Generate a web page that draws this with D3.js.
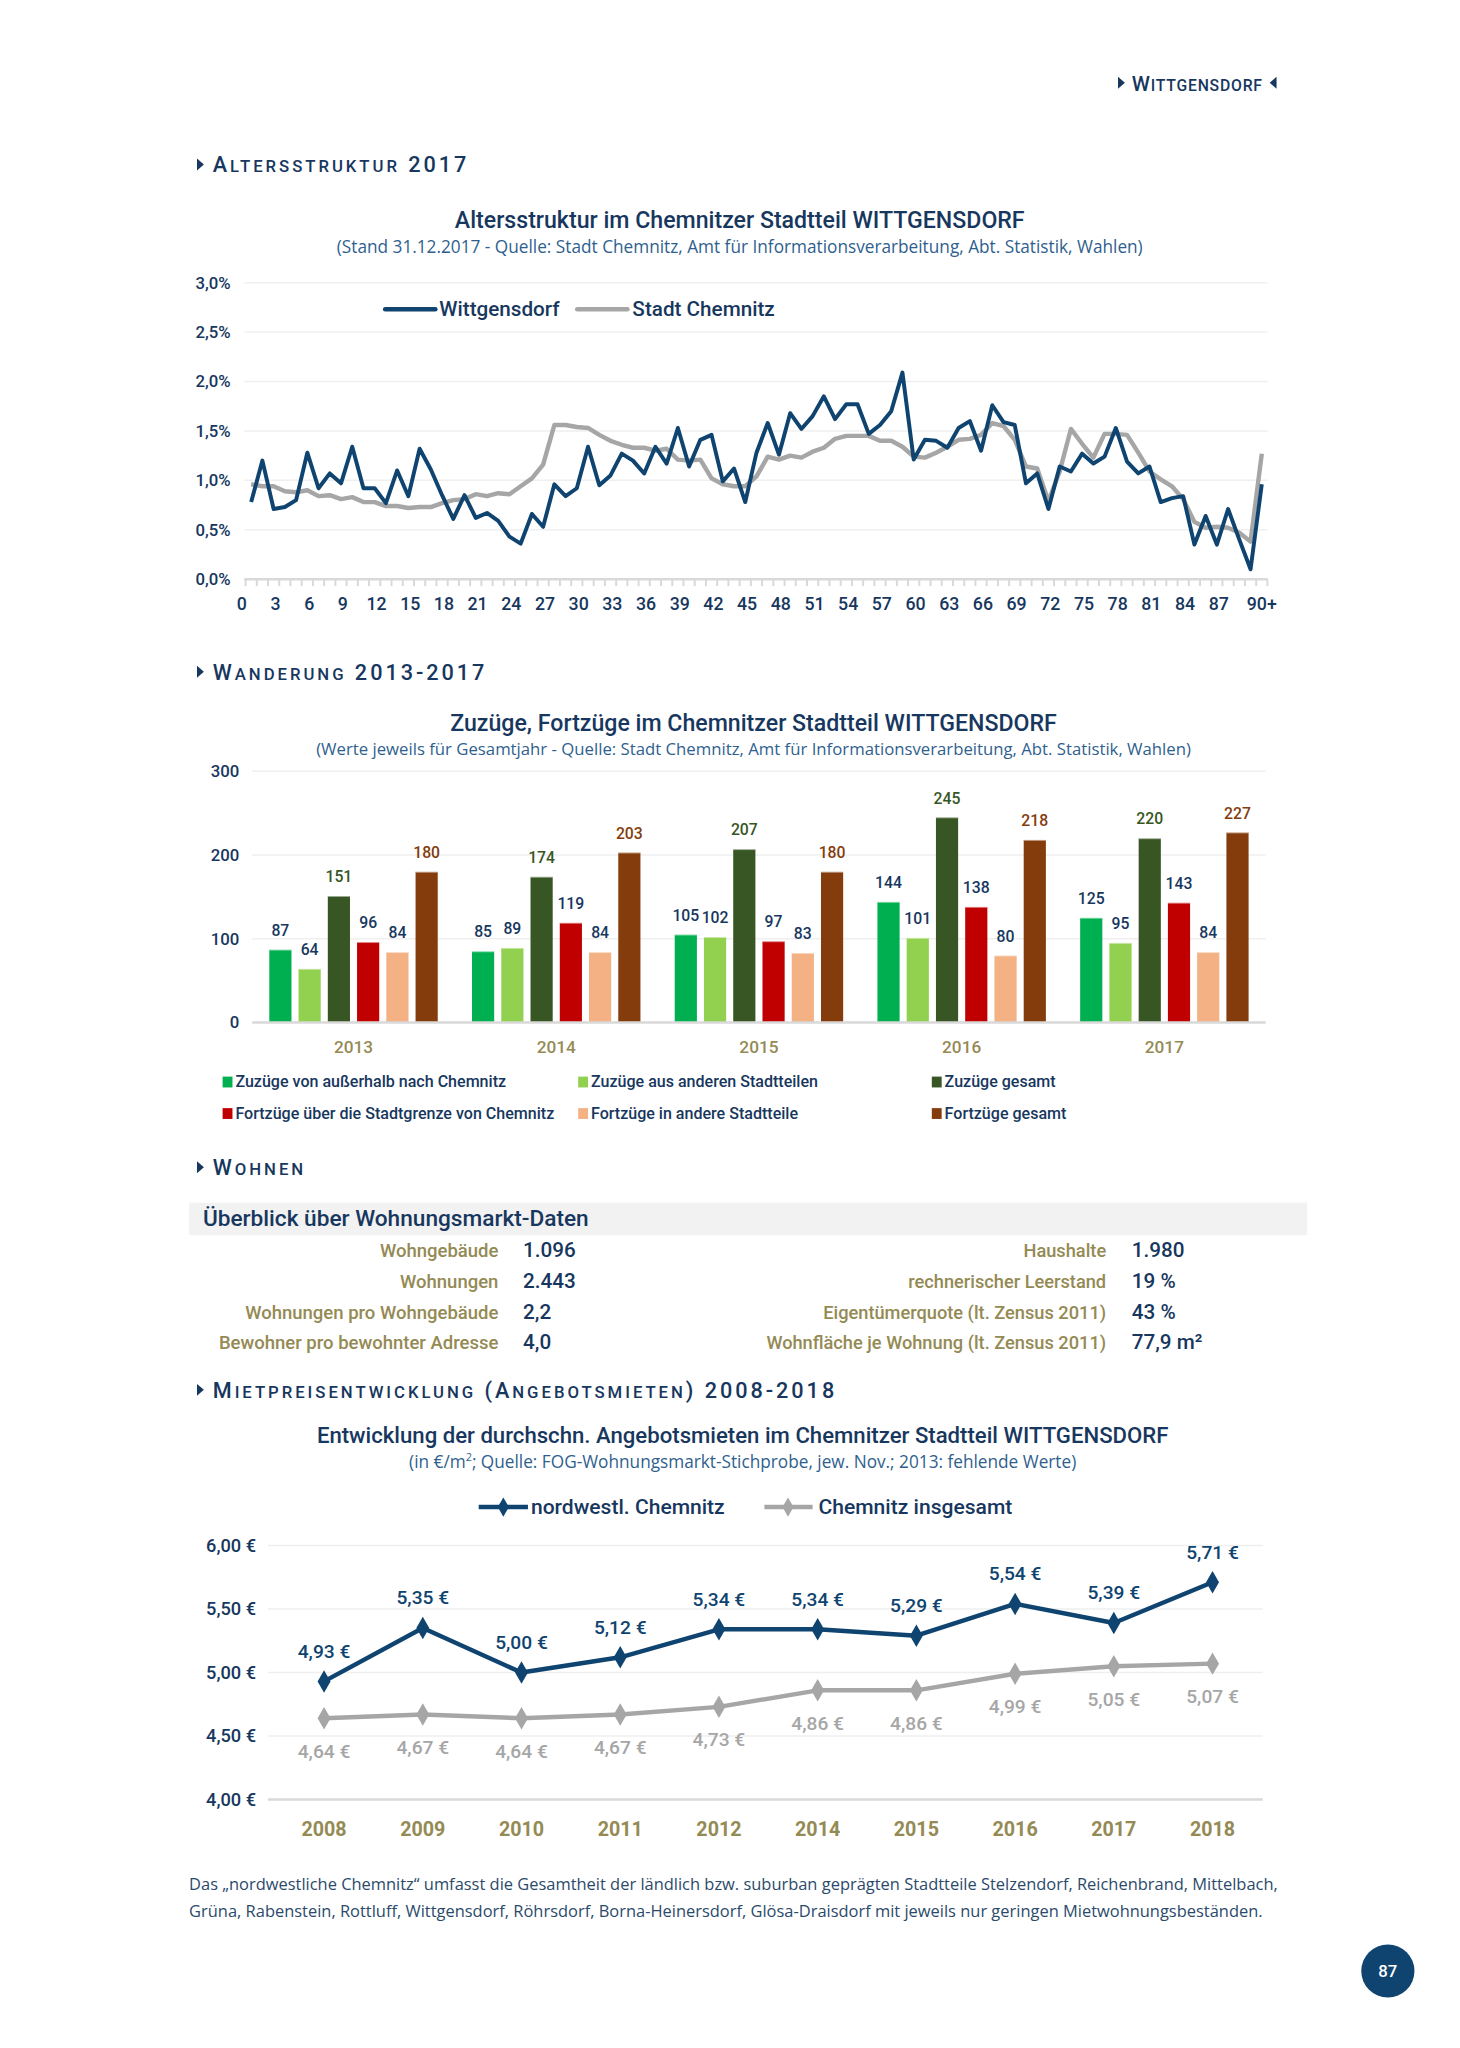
<!DOCTYPE html>
<html><head><meta charset="utf-8">
<script src="https://cdn.jsdelivr.net/npm/d3@7"></script>
<style>body{margin:0;background:#fff} svg{display:block}</style>
</head><body>
<svg id="c" width="1460" height="2048"></svg>
<script>
// ---------- DATA ----------
const ages = d3.range(0, 91);
const ageTickLabels = ["0","3","6","9","12","15","18","21","24","27","30","33","36","39","42","45","48","51","54","57","60","63","66","69","72","75","78","81","84","87","90+"];
const ageYTicks = [0, 0.5, 1.0, 1.5, 2.0, 2.5, 3.0];
const wittgensdorf = [0.78,1.20,0.71,0.73,0.80,1.28,0.92,1.07,0.97,1.34,0.92,0.92,0.77,1.10,0.84,1.32,1.11,0.85,0.61,0.85,0.62,0.67,0.59,0.43,0.36,0.66,0.53,0.96,0.84,0.92,1.34,0.95,1.05,1.27,1.20,1.07,1.34,1.17,1.53,1.14,1.41,1.46,0.99,1.12,0.78,1.28,1.58,1.26,1.68,1.52,1.65,1.85,1.62,1.77,1.77,1.47,1.56,1.70,2.09,1.21,1.41,1.40,1.33,1.53,1.60,1.30,1.76,1.59,1.56,0.97,1.07,0.71,1.14,1.09,1.27,1.17,1.24,1.53,1.19,1.07,1.14,0.78,0.82,0.84,0.35,0.64,0.35,0.71,0.40,0.10,0.96];
const stadtChemnitz = [0.96,0.94,0.94,0.89,0.88,0.90,0.84,0.85,0.81,0.83,0.78,0.78,0.74,0.74,0.72,0.73,0.73,0.77,0.80,0.81,0.86,0.84,0.87,0.86,0.94,1.02,1.16,1.56,1.56,1.54,1.53,1.46,1.40,1.36,1.33,1.33,1.30,1.32,1.21,1.20,1.21,1.02,0.96,0.94,0.94,1.04,1.24,1.21,1.25,1.23,1.29,1.33,1.42,1.45,1.45,1.45,1.40,1.40,1.34,1.24,1.23,1.28,1.34,1.41,1.42,1.46,1.58,1.55,1.41,1.14,1.12,0.79,1.09,1.52,1.37,1.23,1.47,1.47,1.46,1.28,1.09,1.01,0.94,0.81,0.58,0.52,0.53,0.52,0.47,0.38,1.27];

const migYears = ["2013","2014","2015","2016","2017"];
const migYTicks = [0, 100, 200, 300];
const zuzuegeAusserhalb = [87, 85, 105, 144, 125];
const zuzuegeStadtteile = [64, 89, 102, 101, 95];
const zuzuegeGesamt = [151, 174, 207, 245, 220];
const fortzuegeGrenze = [96, 119, 97, 138, 143];
const fortzuegeStadtteile = [84, 84, 83, 80, 84];
const fortzuegeGesamt = [180, 203, 180, 218, 227];
const migSeriesNames = ["Zuzüge von außerhalb nach Chemnitz","Zuzüge aus anderen Stadtteilen","Zuzüge gesamt","Fortzüge über die Stadtgrenze von Chemnitz","Fortzüge in andere Stadtteile","Fortzüge gesamt"];

const tableLeftLabels = ["Wohngebäude","Wohnungen","Wohnungen pro Wohngebäude","Bewohner pro bewohnter Adresse"];
const tableLeftValues = ["1.096","2.443","2,2","4,0"];
const tableRightLabels = ["Haushalte","rechnerischer Leerstand","Eigentümerquote (lt. Zensus 2011)","Wohnfläche je Wohnung (lt. Zensus 2011)"];
const tableRightValues = ["1.980","19 %","43 %","77,9 m²"];

const rentYears = ["2008","2009","2010","2011","2012","2014","2015","2016","2017","2018"];
const rentYTicks = [4.0, 4.5, 5.0, 5.5, 6.0];
const rentNordwest = [4.93, 5.35, 5.00, 5.12, 5.34, 5.34, 5.29, 5.54, 5.39, 5.71];
const rentChemnitz = [4.64, 4.67, 4.64, 4.67, 4.73, 4.86, 4.86, 4.99, 5.05, 5.07];

// ---------- STYLE ----------
const NAVY = "#17375e", LINE = "#0f4470", OLIVE = "#948a54", GREY = "#a6a6a6", SUB = "#2f5f8e", GRID = "#efefef", AXIS = "#d9d9d9";
const DIN = "Roboto, 'DejaVu Sans', sans-serif";
const OS = "'Open Sans', 'Noto Sans', sans-serif";
const svg = d3.select("#c").append("g").attr("transform", "scale(0.985)");

function tri(x, y, dir) {
  const d = dir > 0 ? `M${x},${y-6}L${x+7},${y}L${x},${y+6}Z` : `M${x+7},${y-6}L${x},${y}L${x+7},${y+6}Z`;
  svg.append("path").attr("d", d).attr("fill", NAVY);
}
function caps(x, y, parts, big, small, ls) {
  const t = svg.append("text").attr("x", x).attr("y", y).attr("fill", NAVY)
    .attr("font-family", DIN).attr("font-weight", 500).attr("letter-spacing", ls);
  parts.forEach(([s, b]) => t.append("tspan").attr("font-size", b ? big : small).text(s));
  return t;
}
function txt(x, y, s, o) {
  const t = svg.append("text").attr("x", x).attr("y", y).text(s)
    .attr("font-family", o.ff || DIN).attr("font-size", o.fs || 16).attr("font-weight", o.fw || 500)
    .attr("fill", o.fill || NAVY).attr("text-anchor", o.anchor || "start");
  if (o.ls) t.attr("letter-spacing", o.ls);
  return t;
}

// ---------- HEADER ----------
tri(1135, 84, 1);
caps(1149, 92, [["W", true], ["ITTGENSDORF", false]], 21, 16, 0.8);
tri(1289, 84, -1);

// ---------- SECTION 1: line chart ----------
tri(200, 167, 1);
caps(216, 175, [["A", true], ["LTERSSTRUKTUR", false], [" 2017", true]], 22, 17, 3);
txt(751, 231, "Altersstruktur im Chemnitzer Stadtteil WITTGENSDORF", {fs: 23.5, anchor: "middle"});
txt(751, 257, "(Stand 31.12.2017 - Quelle: Stadt Chemnitz, Amt für Informationsverarbeitung, Abt. Statistik, Wahlen)", {ff: OS, fs: 17.5, fw: 400, fill: SUB, anchor: "middle"});

{
  const x = d3.scaleLinear().domain([0, 90]).range([255, 1281]);
  const y = d3.scaleLinear().domain([0, 3]).range([588, 287]);
  const g = svg.append("g");
  g.selectAll("line.grid").data(ageYTicks.filter(d => d > 0)).join("line")
    .attr("x1", 248).attr("x2", 1287).attr("y1", d => y(d)).attr("y2", d => y(d))
    .attr("stroke", GRID).attr("stroke-width", 1.5);
  g.append("line").attr("x1", 248).attr("x2", 1287).attr("y1", y(0)).attr("y2", y(0)).attr("stroke", AXIS).attr("stroke-width", 2.5);
  g.selectAll("line.tick").data(d3.range(0, 92)).join("line")
    .attr("x1", d => x(d - 0.5)).attr("x2", d => x(d - 0.5)).attr("y1", y(0)).attr("y2", y(0) + 7)
    .attr("stroke", AXIS).attr("stroke-width", 2);
  g.selectAll("text.yl").data(ageYTicks).join("text")
    .attr("x", 234).attr("y", d => y(d)).attr("dy", "0.35em").attr("text-anchor", "end")
    .attr("font-family", DIN).attr("font-size", 17).attr("font-weight", 500).attr("fill", NAVY)
    .text(d => d3.format(".1f")(d).replace(".", ",") + "%");
  g.selectAll("text.xl").data(ageTickLabels).join("text")
    .attr("x", (d, i) => i === ageTickLabels.length - 1 ? x(i * 3) : x(i * 3) - 9.5)
    .attr("y", 619).attr("text-anchor", "middle")
    .attr("font-family", DIN).attr("font-size", 18).attr("font-weight", 500).attr("fill", NAVY)
    .text(d => d);
  const line = d3.line().x((d, i) => x(ages[i])).y(d => y(d));
  g.append("path").datum(stadtChemnitz).attr("d", line).attr("fill", "none").attr("stroke", GREY).attr("stroke-width", 4.5).attr("stroke-linejoin", "round");
  g.append("path").datum(wittgensdorf).attr("d", line).attr("fill", "none").attr("stroke", LINE).attr("stroke-width", 4).attr("stroke-linejoin", "round");
  // legend
  g.append("line").attr("x1", 391).attr("x2", 442).attr("y1", 314).attr("y2", 314).attr("stroke", LINE).attr("stroke-width", 4.5).attr("stroke-linecap", "round");
  txt(446, 321, "Wittgensdorf", {fs: 21});
  g.append("line").attr("x1", 586).attr("x2", 637).attr("y1", 314).attr("y2", 314).attr("stroke", GREY).attr("stroke-width", 4.5).attr("stroke-linecap", "round");
  txt(642, 321, "Stadt Chemnitz", {fs: 21});
}

// ---------- SECTION 2: bar chart ----------
tri(200, 682, 1);
caps(216, 690, [["W", true], ["ANDERUNG", false], [" 2013-2017", true]], 22, 17, 3);
txt(765, 742, "Zuzüge, Fortzüge im Chemnitzer Stadtteil WITTGENSDORF", {fs: 23.5, anchor: "middle"});
txt(765, 766, "(Werte jeweils für Gesamtjahr - Quelle: Stadt Chemnitz, Amt für Informationsverarbeitung, Abt. Statistik, Wahlen)", {ff: OS, fs: 17, fw: 400, fill: SUB, anchor: "middle"});

{
  const series = [zuzuegeAusserhalb, zuzuegeStadtteile, zuzuegeGesamt, fortzuegeGrenze, fortzuegeStadtteile, fortzuegeGesamt];
  const colors = ["#00b050", "#92d050", "#375623", "#c00000", "#f4b183", "#843c0c"];
  const labelColors = [NAVY, NAVY, "#375623", NAVY, NAVY, "#843c0c"];
  const x0 = d3.scaleBand().domain(migYears).range([256, 1285]);
  const x1 = d3.scaleBand().domain(d3.range(6)).range([-85.5, 85.5]).paddingInner(0.242);
  const y = d3.scaleLinear().domain([0, 300]).range([1038, 783]);
  const g = svg.append("g");
  g.selectAll("line.grid").data(migYTicks.filter(d => d > 0)).join("line")
    .attr("x1", 256).attr("x2", 1285).attr("y1", d => y(d)).attr("y2", d => y(d))
    .attr("stroke", GRID).attr("stroke-width", 1.5);
  g.selectAll("text.yl").data(migYTicks).join("text")
    .attr("x", 243).attr("y", d => y(d)).attr("dy", "0.35em").attr("text-anchor", "end")
    .attr("font-family", DIN).attr("font-size", 17).attr("font-weight", 500).attr("fill", NAVY).text(d => d);
  const cells = [];
  series.forEach((s, si) => s.forEach((v, yi) => cells.push({si, yi, v})));
  const cx = d => x0(migYears[d.yi]) + x0.bandwidth() / 2 + x1(d.si);
  g.selectAll("rect.bar").data(cells).join("rect")
    .attr("x", cx).attr("width", x1.bandwidth())
    .attr("y", d => y(d.v)).attr("height", d => y(0) - y(d.v))
    .attr("fill", d => colors[d.si]);
  g.selectAll("rect.hl").data(cells).join("rect")
    .attr("x", cx).attr("width", x1.bandwidth())
    .attr("y", d => y(d.v) - 1).attr("height", 2)
    .attr("fill", "#fff").attr("opacity", 0.5);
  g.selectAll("text.vl").data(cells).join("text")
    .attr("x", d => cx(d) + x1.bandwidth() / 2).attr("y", d => y(d.v) - 14)
    .attr("text-anchor", "middle").attr("font-family", DIN).attr("font-size", 16).attr("font-weight", 500)
    .attr("fill", d => labelColors[d.si]).text(d => d.v);
  g.append("line").attr("x1", 256).attr("x2", 1285).attr("y1", y(0)).attr("y2", y(0)).attr("stroke", AXIS).attr("stroke-width", 2.5);
  g.selectAll("text.xl").data(migYears).join("text")
    .attr("x", d => x0(d) + x0.bandwidth() / 2).attr("y", 1069).attr("text-anchor", "middle")
    .attr("font-family", DIN).attr("font-size", 17.5).attr("font-weight", 500).attr("fill", OLIVE).text(d => d);
  // legend
  const lx = [226, 587, 946], ly = [1099, 1131];
  migSeriesNames.forEach((n, i) => {
    const c = i % 3, r = Math.floor(i / 3);
    g.append("rect").attr("x", lx[c]).attr("y", ly[r] - 6).attr("width", 10).attr("height", 11).attr("fill", colors[i]);
    txt(lx[c] + 13, ly[r] + 5, n, {fs: 16.3});
  });
}

// ---------- SECTION 3: table ----------
tri(200, 1185, 1);
caps(216, 1193, [["W", true], ["OHNEN", false]], 22, 17, 3);
svg.append("rect").attr("x", 192).attr("y", 1221).attr("width", 1135).attr("height", 33).attr("fill", "#f2f2f2");
txt(206, 1245, "Überblick über Wohnungsmarkt-Daten", {fs: 23});
{
  const rowY = d3.scalePoint().domain(d3.range(4)).range([1270, 1364]);
  tableLeftLabels.forEach((l, i) => {
    txt(506, rowY(i) + 6, l, {fs: 18.8, fill: OLIVE, anchor: "end"});
    txt(531, rowY(i) + 6, tableLeftValues[i], {fs: 21});
    txt(1123, rowY(i) + 6, tableRightLabels[i], {fs: 18.5, fill: OLIVE, anchor: "end"});
    txt(1149, rowY(i) + 6, tableRightValues[i], {fs: 21});
  });
}

// ---------- SECTION 4: rent chart ----------
tri(200, 1411, 1);
caps(216, 1419, [["M", true], ["IETPREISENTWICKLUNG", false], [" (A", true], ["NGEBOTSMIETEN", false], [") 2008-2018", true]], 22, 17, 3);
txt(754, 1465, "Entwicklung der durchschn. Angebotsmieten im Chemnitzer Stadtteil WITTGENSDORF", {fs: 22.5, anchor: "middle"});
{
  const t = svg.append("text").attr("x", 754).attr("y", 1490).attr("text-anchor", "middle")
    .attr("font-family", OS).attr("font-size", 17.5).attr("fill", SUB);
  t.append("tspan").text("(in €/m");
  t.append("tspan").attr("dy", -7).attr("font-size", 11).text("2");
  t.append("tspan").attr("dy", 7).text("; Quelle: FOG-Wohnungsmarkt-Stichprobe, jew. Nov.; 2013: fehlende Werte)");
}
{
  const x = d3.scalePoint().domain(rentYears).range([329, 1231]);
  const y = d3.scaleLinear().domain([4, 6]).range([1827, 1569]);
  const g = svg.append("g");
  const eur = d => d3.format(".2f")(d).replace(".", ",") + " €";
  g.selectAll("line.grid").data(rentYTicks.filter(d => d > 4)).join("line")
    .attr("x1", 272).attr("x2", 1282).attr("y1", d => y(d)).attr("y2", d => y(d))
    .attr("stroke", GRID).attr("stroke-width", 1.5);
  g.append("line").attr("x1", 272).attr("x2", 1282).attr("y1", y(4)).attr("y2", y(4)).attr("stroke", AXIS).attr("stroke-width", 2.5);
  g.selectAll("text.yl").data(rentYTicks).join("text")
    .attr("x", 260).attr("y", d => y(d)).attr("dy", "0.35em").attr("text-anchor", "end")
    .attr("font-family", DIN).attr("font-size", 18.5).attr("font-weight", 500).attr("fill", NAVY).text(eur);
  g.selectAll("text.xl").data(rentYears).join("text")
    .attr("x", d => x(d)).attr("y", 1864).attr("text-anchor", "middle")
    .attr("font-family", DIN).attr("font-size", 20).attr("font-weight", 700).attr("fill", OLIVE).text(d => d);
  const line = d3.line().x((d, i) => x(rentYears[i])).y(d => y(d));
  const diamond = d3.symbol().type(d3.symbolDiamond).size(150);
  [[rentChemnitz, GREY, 40], [rentNordwest, LINE, -24]].forEach(([data, col, off]) => {
    g.append("path").datum(data).attr("d", line).attr("fill", "none").attr("stroke", col).attr("stroke-width", 4.5).attr("stroke-linejoin", "round");
    g.selectAll(null).data(data).join("path").attr("d", diamond)
      .attr("transform", (d, i) => `translate(${x(rentYears[i])},${y(d)})`).attr("fill", col);
    g.selectAll(null).data(data).join("text")
      .attr("x", (d, i) => x(rentYears[i])).attr("y", d => y(d) + off).attr("text-anchor", "middle")
      .attr("font-family", DIN).attr("font-size", 19.5).attr("font-weight", 500).attr("fill", col).text(eur);
  });
  // legend
  g.append("line").attr("x1", 486).attr("x2", 536).attr("y1", 1530).attr("y2", 1530).attr("stroke", LINE).attr("stroke-width", 4.5);
  g.append("path").attr("d", d3.symbol().type(d3.symbolDiamond).size(110)).attr("transform", "translate(511,1530)").attr("fill", LINE);
  txt(539, 1537, "nordwestl. Chemnitz", {fs: 21.4});
  g.append("line").attr("x1", 776).attr("x2", 825).attr("y1", 1530).attr("y2", 1530).attr("stroke", GREY).attr("stroke-width", 4.5);
  g.append("path").attr("d", d3.symbol().type(d3.symbolDiamond).size(110)).attr("transform", "translate(800,1530)").attr("fill", GREY);
  txt(831, 1537, "Chemnitz insgesamt", {fs: 21.4});
}

// ---------- FOOTER ----------
txt(192, 1919, "Das „nordwestliche Chemnitz“ umfasst die Gesamtheit der ländlich bzw. suburban geprägten Stadtteile Stelzendorf, Reichenbrand, Mittelbach,", {ff: OS, fs: 16.7, fw: 400, fill: "#2b4a6b"});
txt(192, 1946, "Grüna, Rabenstein, Rottluff, Wittgensdorf, Röhrsdorf, Borna-Heinersdorf, Glösa-Draisdorf mit jeweils nur geringen Mietwohnungsbeständen.", {ff: OS, fs: 16.7, fw: 400, fill: "#2b4a6b"});
svg.append("circle").attr("cx", 1409).attr("cy", 2001).attr("r", 27).attr("fill", LINE);
txt(1409, 2007, "87", {fs: 17, fill: "#fff", anchor: "middle"});
</script>
</body></html>
